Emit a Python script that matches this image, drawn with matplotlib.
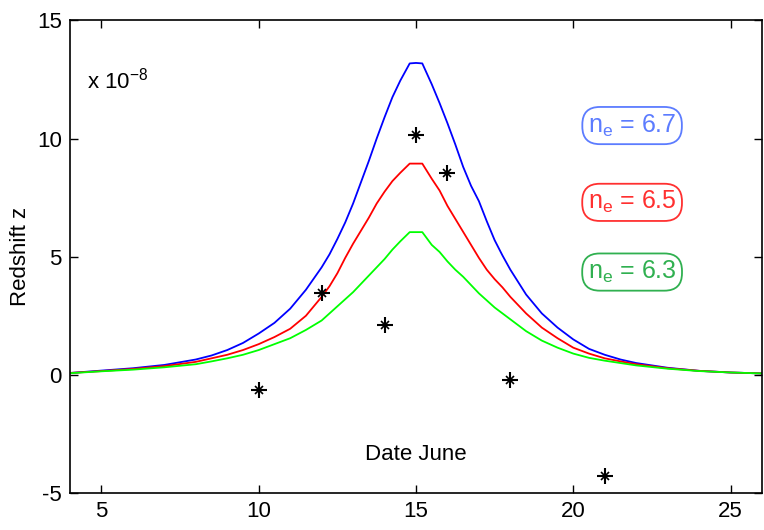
import matplotlib
matplotlib.use("Agg")
import matplotlib.pyplot as plt

plt.rcParams['font.family'] = ['Liberation Sans', 'DejaVu Sans']
plt.rcParams['mathtext.fontset'] = 'custom'
plt.rcParams['mathtext.rm'] = 'Liberation Sans'
plt.rcParams['axes.unicode_minus'] = False

# curve values (units of 1e-8)
days = [4, 5, 6, 7, 8, 8.5, 9, 9.5, 10, 10.5, 11, 11.5, 12, 12.25, 12.5, 12.75,
        13, 13.25, 13.5, 13.75, 14, 14.25, 14.5, 14.8, 15, 15.2, 15.5, 15.75,
        16, 16.25, 16.5, 16.75, 17, 17.25, 17.5, 17.75, 18, 18.5, 19, 19.5,
        20, 20.5, 21, 21.5, 22, 23, 24, 25, 26]
z_blue = [0.08, 0.18, 0.28, 0.42, 0.65, 0.82, 1.05, 1.35, 1.75, 2.2, 2.8, 3.6, 4.55, 5.1, 5.75, 6.45,
          7.25, 8.15, 9.05, 10.0, 10.9, 11.75, 12.45, 13.18, 13.2, 13.18, 12.3, 11.5,
          10.65, 9.75, 8.8, 8.0, 7.35, 6.5, 5.7, 5.05, 4.45, 3.4, 2.6, 2.0,
          1.5, 1.1, 0.85, 0.65, 0.5, 0.3, 0.17, 0.1, 0.06]
z_red = [0.08, 0.16, 0.25, 0.37, 0.55, 0.7, 0.85, 1.05, 1.3, 1.6, 1.95, 2.5, 3.3, 3.75, 4.3, 4.95,
         5.55, 6.1, 6.65, 7.25, 7.75, 8.2, 8.55, 8.94, 8.94, 8.94, 8.3, 7.8,
         7.15, 6.6, 6.05, 5.5, 4.95, 4.45, 4.05, 3.7, 3.3, 2.6, 2.0, 1.55,
         1.15, 0.9, 0.7, 0.57, 0.45, 0.28, 0.17, 0.1, 0.06]
z_green = [0.07, 0.15, 0.22, 0.32, 0.45, 0.57, 0.7, 0.85, 1.05, 1.3, 1.55, 1.9, 2.3, 2.6, 2.9, 3.2,
           3.5, 3.85, 4.2, 4.55, 4.9, 5.3, 5.65, 6.04, 6.04, 6.04, 5.5, 5.2,
           4.8, 4.45, 4.15, 3.8, 3.45, 3.15, 2.85, 2.6, 2.35, 1.85, 1.45, 1.15,
           0.9, 0.72, 0.6, 0.5, 0.4, 0.26, 0.16, 0.1, 0.06]

# observed points
obs_day = [10, 12, 14, 15, 16, 18, 21]
obs_z = [-0.65, 3.45, 2.1, 10.15, 8.55, -0.2, -4.3]

labels = ['6.7', '6.5', '6.3']
label_y = [10.55, 7.3, 4.35]
line_cols = ['#0000ff', '#ff0000', '#00ff00']
box_cols = ['#5c7cff', '#ff3030', '#30b050']

fig = plt.figure(figsize=(7.64, 5.30), dpi=100)
ax = fig.add_axes([0.0916, 0.0698, 0.9058, 0.8917])

for z, c in zip([z_blue, z_red, z_green], line_cols):
    ax.plot(days, z, color=c, lw=1.3)

ax.plot(obs_day, obs_z, ls='none', marker='+', ms=11, mew=1.5, color='black')
ax.plot(obs_day, obs_z, ls='none', marker='x', ms=6, mew=1.2, color='black')

for lab, y, c in zip(labels, label_y, box_cols):
    ax.text(21.87, y, r'$\mathregular{n_e}$ = ' + lab, color=c, fontsize=18,
            ha='center', va='center',
            bbox=dict(boxstyle='round,pad=0.22,rounding_size=0.7', fc='white', ec=c, lw=1.3))

ax.text(4.55, 12.45, r'x 10$^{\mathregular{-8}}$', fontsize=16, va='center')
ax.text(15.0, -3.35, 'Date June', fontsize=16, ha='center', va='center')

ax.set_xlim(4, 26)
ax.set_ylim(-5, 15)
ax.set_xticks([5, 10, 15, 20, 25])
ax.set_yticks([-5, 0, 5, 10, 15])
ax.tick_params(direction='in', length=6, width=1, labelsize=16, top=True, right=True, pad=6)
for s in ax.spines.values():
    s.set_linewidth(1.2)
ax.set_ylabel('Redshift z', fontsize=16, labelpad=4)

fig.savefig('out.png', dpi=100)
